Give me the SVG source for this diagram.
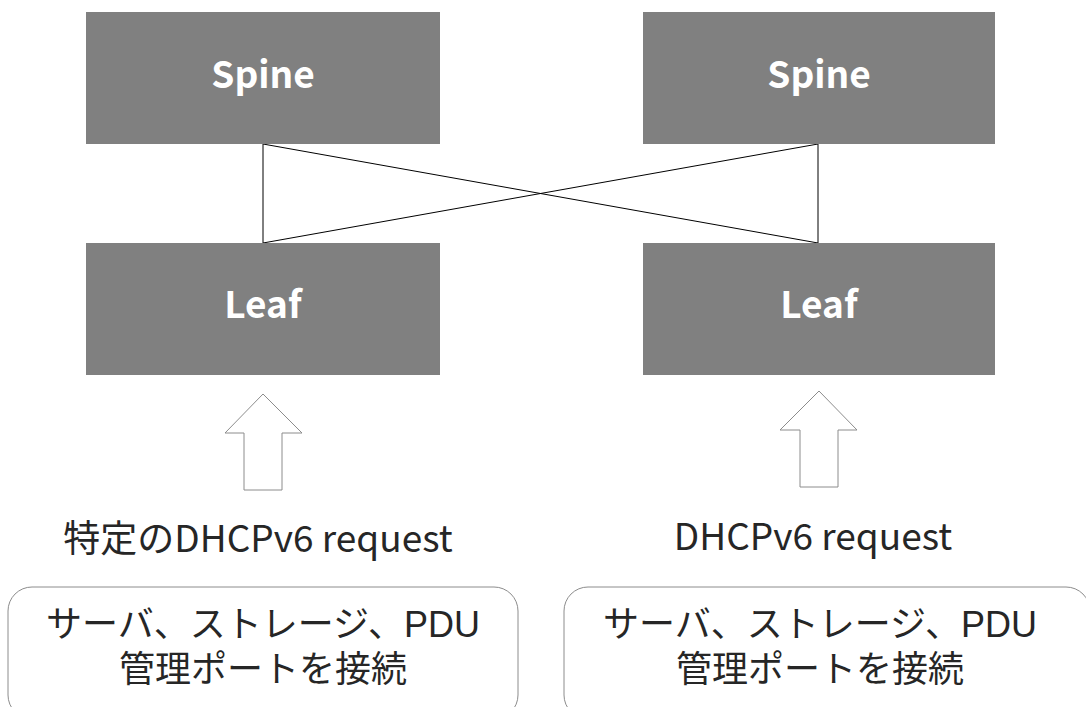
<svg xmlns="http://www.w3.org/2000/svg" width="1086" height="707" viewBox="0 0 1086 707">
<style>
.box{fill:#808080;}
.boxt{fill:#ffffff;font-family:"Noto Sans CJK JP","Noto Sans",sans-serif;font-weight:bold;font-size:37px;text-anchor:middle;}
.lbl{fill:#262626;font-family:"Noto Sans CJK JP","Noto Sans",sans-serif;font-size:37px;text-anchor:middle;}
.dev{fill:#262626;font-family:"Liberation Sans","Noto Sans CJK JP",sans-serif;font-size:36px;text-anchor:middle;}
.arrow{fill:#ffffff;stroke:#8c8c8c;stroke-width:1;}
.rbox{fill:#ffffff;stroke:#8c8c8c;stroke-width:1;}
.link{stroke:#000000;stroke-width:1;fill:none;}
</style>
<rect width="1086" height="707" fill="#ffffff"/>
<g id="connectors">
<line class="link" x1="263" y1="144" x2="263" y2="243"/>
<line class="link" x1="818" y1="144" x2="818" y2="243"/>
<line class="link" x1="263" y1="144" x2="818" y2="243"/>
<line class="link" x1="818" y1="144" x2="263" y2="243"/>
</g>
<g id="spine-left">
<rect class="box" x="86" y="12" width="354" height="132"/>
<text class="boxt" x="263" y="88">Spine</text>
</g>
<g id="spine-right">
<rect class="box" x="643" y="12" width="352" height="132"/>
<text class="boxt" x="819" y="88">Spine</text>
</g>
<g id="leaf-left">
<rect class="box" x="86" y="243" width="354" height="132"/>
<text class="boxt" x="263" y="318">Leaf</text>
</g>
<g id="leaf-right">
<rect class="box" x="643" y="243" width="352" height="132"/>
<text class="boxt" x="819" y="318">Leaf</text>
</g>
<g id="arrow-left">
<polygon class="arrow" points="263,394 302,433 282,433 282,490 244,490 244,433 225,433"/>
</g>
<g id="arrow-right">
<polygon class="arrow" points="819,391 857,430 838,430 838,487 800,487 800,430 780,430"/>
</g>
<g id="label-left">
<text class="lbl" x="258" y="552">特定のDHCPv6 request</text>
</g>
<g id="label-right">
<text class="lbl" x="813" y="550">DHCPv6 request</text>
</g>
<g id="devices-left">
<rect class="rbox" x="8" y="587" width="510" height="132" rx="24" ry="24"/>
<text class="dev"><tspan x="263" y="637">サーバ、ストレージ、PDU</tspan><tspan x="263" y="682">管理ポートを接続</tspan></text>
</g>
<g id="devices-right">
<rect class="rbox" x="564" y="587" width="526" height="132" rx="24" ry="24"/>
<text class="dev"><tspan x="820" y="637">サーバ、ストレージ、PDU</tspan><tspan x="820" y="682">管理ポートを接続</tspan></text>
</g>
</svg>
